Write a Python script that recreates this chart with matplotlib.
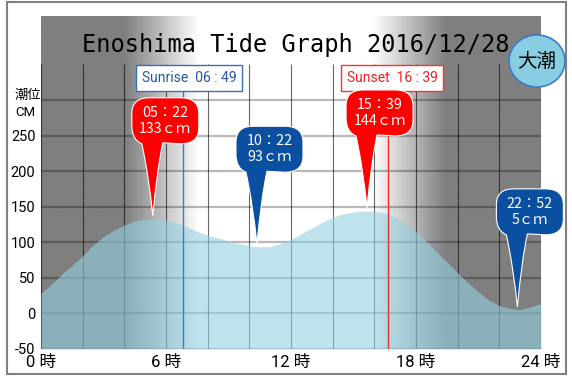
import matplotlib
matplotlib.use("Agg")
import matplotlib.pyplot as plt
import matplotlib.patches as mpatches
import matplotlib.transforms as mtransforms
from matplotlib.colors import LinearSegmentedColormap
from matplotlib.path import Path
import numpy as np

# --- data ---
hours = np.arange(0, 24.01, 0.5)  # sampled every 30 minutes
tide_cm = [28, 41, 55, 68, 81, 96, 108, 117, 124, 129.5, 132.5, 133, 131.5,
           127.5, 122, 115, 110, 106, 102, 98, 95, 93.5, 94, 98, 104, 112,
           120, 128, 135, 140, 142.5, 144, 143.5, 141, 135, 126, 115, 101,
           86, 72, 57, 43, 30, 19, 11, 7, 5.5, 9, 14]

peak_times = ["05:22", "10:22", "15:39", "22:52"]
peak_levels = [133, 93, 144, 5]
peak_kinds = ["high", "low", "high", "low"]

sunrise = "06:49"
sunset = "16:39"

x_ticks = [0, 6, 12, 18, 24]
x_labels = ["0 時", "6 時", "12 時", "18 時", "24 時"]
y_ticks = [-50, 0, 50, 100, 150, 200, 250]


def to_hours(s):
    h, m = s.split(":")
    return int(h) + int(m) / 60


NARROW = "Roboto"
CJK = "Noto Sans CJK JP"

W, H = 572, 376
fig = plt.figure(figsize=(W / 100, H / 100), dpi=100)
ax = fig.add_axes([41 / W, 27 / H, 500 / W, 333 / H])
ax.set_xlim(0, 24)
ax.set_ylim(-50, 418)
for s in ax.spines.values():
    s.set_visible(False)

sr, ss = to_hours(sunrise), to_hours(sunset)

# day/night background
xs = np.linspace(0, 24, 800)
light = np.interp(xs, [sr - 2.8, sr + 0.75, ss - 0.7, ss + 2.8], [0, 1, 1, 0])
bg = LinearSegmentedColormap.from_list("bg", ["#7f7f7f", "#ffffff"])
ax.imshow(np.tile(light, (2, 1)), extent=[0, 24, -50, 418], aspect="auto",
          cmap=bg, vmin=0, vmax=1, zorder=0, interpolation="bilinear")

# grid
ax.hlines(np.arange(-50, 301, 50), 0, 24, colors="black", alpha=0.28, lw=1.6, zorder=1)
ax.vlines(np.arange(0, 25, 2), -50, 350, colors="black", alpha=0.6, lw=0.8, zorder=1)

# tide
ax.fill_between(hours, tide_cm, -50, color="#94d1e2", alpha=0.6, lw=0, zorder=2)

# sunrise / sunset
ax.vlines(sr, -50, 314, color="#3a78c8", lw=1, zorder=3)
ax.vlines(ss, -50, 314, color="#f03030", lw=1, zorder=3)
ax.annotate(f"Sunrise  {sunrise.replace(':', ' : ')}", xy=(sr, 331), xytext=(4.5, 0),
            textcoords="offset points", ha="center", va="center", fontsize=10,
            family=NARROW, color="#2358a8", zorder=5,
            bbox=dict(boxstyle="square,pad=0.42", fc="white", ec="#3a6fb8", lw=1))
ax.annotate(f"Sunset  {sunset.replace(':', ' : ')}", xy=(ss, 331), xytext=(3, 0),
            textcoords="offset points", ha="center", va="center", fontsize=10,
            family=NARROW, color="#ee2020", zorder=5,
            bbox=dict(boxstyle="square,pad=0.42", fc="white", ec="#ff3030", lw=1))

# balloons for high / low water
M, C, L, Z = Path.MOVETO, Path.CURVE3, Path.LINETO, Path.CLOSEPOLY
verts = [(0, 0), (4, 45), (10, 73), (28, 72), (46, 72), (46, 88), (46, 102),
         (46, 118), (28, 118), (-4, 118), (-21, 118), (-21, 102), (-21, 90),
         (-21, 76), (-11, 72), (-4, 40), (0, 0), (0, 0)]
codes = [M, C, C, L, C, C, L, C, C, L, C, C, L, C, C, C, C, Z]
balloon = Path(verts, codes)

for t, lvl, kind in zip(peak_times, peak_levels, peak_kinds):
    th = to_hours(t)
    color = "#ff0000" if kind == "high" else "#0b4fa0"
    tr = (mtransforms.Affine2D().translate(0, 3).scale(fig.dpi / 100)
          + mtransforms.ScaledTranslation(th, lvl, ax.transData))
    ax.add_patch(mpatches.PathPatch(balloon, fc=color, ec="white", lw=0.8,
                                    transform=tr, zorder=6, clip_on=False))
    label = t.replace(":", "：") + "\n" + f"{lvl}ｃｍ"
    ax.annotate(label, xy=(th, lvl), xytext=(12.5 * 0.72, 98 * 0.72),
                textcoords="offset points", ha="center", va="center",
                fontsize=10.3, family=CJK, color="white", linespacing=1.2,
                zorder=7)

# axes labels
ax.set_xticks(x_ticks)
ax.set_xticklabels(x_labels, family=[NARROW, CJK], fontsize=12)
ax.set_yticks(y_ticks)
ax.set_yticklabels([str(v) for v in y_ticks], family=NARROW, fontsize=10.5)
ax.tick_params(length=0, pad=4)
ax.tick_params(axis="x", pad=4)

fig.text(15 / W, 1 - 96 / H, "潮位", family=CJK, fontsize=9.5, ha="left", va="center")
fig.text(15 / W, 1 - 112 / H, "CM", family=NARROW, fontsize=9.5, ha="left", va="center")

fig.text(296 / W, 1 - 45 / H, "Enoshima Tide Graph 2016/12/28", family="DejaVu Sans Mono",
         fontsize=17, ha="center", va="center")

fig.add_artist(mpatches.Ellipse((537 / W, 1 - 61 / H), 56 / W, 52 / H,
                                transform=fig.transFigure, fc="#88cde2",
                                ec="#3b7cc4", lw=1.2, zorder=10))
fig.text(537 / W, 1 - 61 / H, "大潮", family=CJK, fontsize=14, ha="center",
         va="center", zorder=11)

fig.add_artist(mpatches.Rectangle((7 / W, 2 / H), 559 / W, 372.5 / H,
                                  transform=fig.transFigure, fill=False,
                                  ec="#808080", lw=1.5))

fig.savefig("out.png", dpi=100)
